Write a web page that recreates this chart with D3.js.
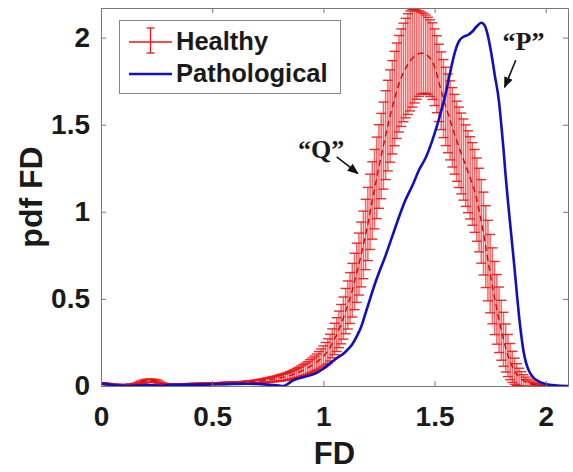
<!DOCTYPE html>
<html>
<head>
<meta charset="UTF-8">
<title>pdf FD</title>
<script src="https://cdn.jsdelivr.net/npm/d3@7"></script>
<style>
  body { margin: 0; background: #fff; }
  text { font-family: "Liberation Sans", Arial, sans-serif; font-weight: bold; fill: #1a1a1a; }
</style>
</head>
<body>
<script>
// ---- data ----
// healthy group: mean pdf and std, sampled every 0.01 on FD from 0 to 2.10
var healthyStart = 0, healthyStep = 0.01;
var healthyMean = [
  0.015,0.014,0.012,0.011,0.009,0.008,0.007,0.006,0.005,0.004,
  0.004,0.004,0.005,0.006,0.007,0.008,0.011,0.015,0.020,0.025,
  0.028,0.030,0.030,0.030,0.029,0.027,0.022,0.015,0.011,0.009,
  0.008,0.008,0.008,0.008,0.008,0.008,0.009,0.009,0.009,0.010,
  0.010,0.010,0.011,0.011,0.011,0.012,0.012,0.012,0.013,0.013,
  0.014,0.014,0.014,0.014,0.015,0.015,0.015,0.016,0.016,0.016,
  0.017,0.017,0.018,0.018,0.019,0.020,0.021,0.022,0.023,0.024,
  0.025,0.027,0.028,0.030,0.032,0.034,0.036,0.038,0.040,0.042,
  0.045,0.048,0.050,0.053,0.056,0.060,0.064,0.069,0.074,0.079,
  0.085,0.091,0.097,0.104,0.112,0.120,0.128,0.137,0.147,0.158,
  0.170,0.185,0.200,0.220,0.245,0.270,0.295,0.325,0.355,0.390,
  0.430,0.465,0.505,0.550,0.600,0.650,0.700,0.755,0.810,0.870,
  0.930,1.000,1.065,1.130,1.195,1.260,1.320,1.380,1.440,1.495,
  1.550,1.600,1.650,1.695,1.735,1.770,1.800,1.825,1.848,1.866,
  1.881,1.893,1.902,1.908,1.911,1.910,1.905,1.895,1.882,1.865,
  1.830,1.790,1.740,1.695,1.650,1.605,1.565,1.525,1.485,1.445,
  1.405,1.370,1.335,1.300,1.265,1.230,1.195,1.160,1.120,1.070,
  1.010,0.945,0.875,0.800,0.720,0.645,0.575,0.505,0.440,0.380,
  0.320,0.268,0.218,0.175,0.140,0.110,0.085,0.066,0.051,0.040,
  0.031,0.024,0.018,0.013,0.010,0.007,0.005,0.003,0.002,0.001,
  0.001,0,0,0,0,0,0,0,0,0,0
];
var healthyStd = [
  0.004,0.004,0.004,0.004,0.004,0.004,0.004,0.004,0.004,0.004,
  0.004,0.004,0.004,0.005,0.005,0.006,0.006,0.007,0.008,0.008,
  0.009,0.009,0.009,0.009,0.008,0.008,0.007,0.006,0.005,0.005,
  0.004,0.004,0.004,0.004,0.004,0.004,0.004,0.004,0.004,0.004,
  0.004,0.004,0.004,0.004,0.005,0.005,0.005,0.005,0.005,0.005,
  0.005,0.005,0.005,0.005,0.005,0.006,0.006,0.006,0.006,0.006,
  0.006,0.006,0.006,0.007,0.007,0.007,0.008,0.008,0.008,0.009,
  0.009,0.010,0.010,0.011,0.012,0.012,0.013,0.014,0.015,0.016,
  0.017,0.018,0.019,0.020,0.021,0.022,0.024,0.025,0.027,0.028,
  0.030,0.032,0.034,0.036,0.039,0.041,0.044,0.047,0.051,0.055,
  0.060,0.065,0.071,0.077,0.083,0.090,0.097,0.105,0.113,0.121,
  0.130,0.138,0.146,0.154,0.162,0.170,0.178,0.186,0.194,0.202,
  0.210,0.216,0.222,0.228,0.234,0.240,0.245,0.250,0.255,0.260,
  0.265,0.268,0.271,0.274,0.277,0.280,0.283,0.286,0.289,0.287,
  0.280,0.268,0.256,0.245,0.236,0.230,0.225,0.222,0.220,0.220,
  0.220,0.221,0.222,0.223,0.224,0.225,0.226,0.227,0.228,0.229,
  0.230,0.231,0.232,0.233,0.234,0.235,0.236,0.237,0.238,0.239,
  0.240,0.240,0.238,0.235,0.231,0.225,0.218,0.210,0.200,0.188,
  0.172,0.155,0.138,0.121,0.104,0.089,0.075,0.062,0.051,0.042,
  0.034,0.027,0.021,0.016,0.012,0.009,0.007,0.005,0.004,0.003,
  0.002,0.002,0.001,0.001,0.001,0.001,0,0,0,0,0
];

// pathological group: pdf read at these FD values
var pathFD = [0.00,0.04,0.08,0.12,0.16,0.20,0.24,0.27,0.30,0.35,0.40,0.45,0.50,0.55,0.60,0.65,0.70,0.75,0.80,0.82,
  0.84,0.86,0.90,0.94,0.97,1.00,1.03,1.06,1.09,1.11,1.13,1.15,1.17,1.19,1.21,1.23,1.25,1.28,1.31,1.34,
  1.37,1.40,1.43,1.46,1.49,1.51,1.53,1.55,1.57,1.59,1.61,1.63,1.65,1.67,1.69,1.71,1.725,1.74,1.755,1.77,
  1.79,1.80,1.81,1.82,1.83,1.84,1.85,1.86,1.87,1.88,1.89,1.90,1.91,1.92,1.94,1.97,2.00,2.04,2.10];
var pathPdf = [0.015,0.008,0.002,0.000,0.002,0.006,0.004,0.000,0.006,0.007,0.008,0.008,0.010,0.011,0.012,0.013,0.012,0.008,0.002,0.000,
  0.012,0.030,0.048,0.062,0.075,0.100,0.130,0.160,0.185,0.210,0.240,0.285,0.340,0.420,0.500,0.580,0.650,0.750,0.860,0.970,
  1.070,1.150,1.240,1.310,1.410,1.490,1.580,1.680,1.800,1.910,1.980,2.005,2.015,2.035,2.065,2.085,2.070,2.010,1.910,1.790,
  1.630,1.500,1.360,1.200,1.060,0.930,0.800,0.670,0.530,0.400,0.290,0.200,0.140,0.100,0.055,0.025,0.012,0.004,0.000];

var xTicks = [0, 0.5, 1, 1.5, 2];
var yTicks = [0, 0.5, 1, 1.5, 2];
var seriesNames = ["Healthy", "Pathological"];
// annotation labels with arrow start/end in data units
var notes = [
  {label: "\u201CQ\u201D", x: 0.99, y: 1.31, from: [1.06, 1.315], to: [1.155, 1.22]},
  {label: "\u201CP\u201D", x: 1.90, y: 1.93, from: [1.865, 1.87], to: [1.815, 1.715]}
];

// ---- layout ----
var width = 573, height = 472;
var pLeft = 101, pRight = 568, pTop = 8, pBottom = 386;
var red = "#f01414", blue = "#1010c0";

var svg = d3.select("body").append("svg")
  .attr("width", width).attr("height", height);

var x = d3.scaleLinear().domain([0, 2.1]).range([pLeft, pRight]);
var y = d3.scaleLinear().domain([0, 2.17]).range([pBottom, pTop]);

var defs = svg.append("defs");
defs.append("clipPath").attr("id", "plotclip")
  .append("rect").attr("x", pLeft).attr("y", pTop)
  .attr("width", pRight - pLeft).attr("height", pBottom - pTop);

var healthy = healthyMean.map(function(m, i) {
  return {fd: healthyStart + i * healthyStep, m: m, s: healthyStd[i]};
});

var plot = svg.append("g").attr("clip-path", "url(#plotclip)");

// error bars
var bars = plot.append("g");
bars.selectAll("line.v").data(healthy).enter().append("line")
  .attr("class", "v")
  .attr("x1", function(d) { return x(d.fd); })
  .attr("x2", function(d) { return x(d.fd); })
  .attr("y1", function(d) { return y(d.m - d.s); })
  .attr("y2", function(d) { return y(d.m + d.s); })
  .attr("stroke", red).attr("stroke-opacity", 0.65).attr("stroke-width", 1.5);
["lo", "hi"].forEach(function(k) {
  bars.selectAll("line." + k).data(healthy).enter().append("line")
    .attr("class", k)
    .attr("x1", function(d) { return x(d.fd) - 5; })
    .attr("x2", function(d) { return x(d.fd) + 5; })
    .attr("y1", function(d) { return y(k == "hi" ? d.m + d.s : d.m - d.s); })
    .attr("y2", function(d) { return y(k == "hi" ? d.m + d.s : d.m - d.s); })
    .attr("stroke", red).attr("stroke-opacity", 0.9).attr("stroke-width", 1.4);
});

// healthy mean, dashed
plot.append("path").datum(healthy)
  .attr("d", d3.line().x(function(d) { return x(d.fd); }).y(function(d) { return y(d.m); }))
  .attr("fill", "none").attr("stroke", "#e00000").attr("stroke-width", 1.4)
  .attr("stroke-dasharray", "6,4");

// pathological
var path = pathFD.map(function(f, i) { return [f, pathPdf[i]]; });
plot.append("path").datum(path)
  .attr("d", d3.line().curve(d3.curveMonotoneX)
    .x(function(d) { return x(d[0]); }).y(function(d) { return y(d[1]); }))
  .attr("fill", "none").attr("stroke", blue).attr("stroke-width", 2.6);

// ---- axes ----
var axisCol = "#777";
var gx = svg.append("g").attr("transform", "translate(0," + pBottom + ")")
  .call(d3.axisBottom(x).tickValues(xTicks).tickFormat(d3.format("")).tickSizeInner(-5).tickSizeOuter(0).tickPadding(20));
var gy = svg.append("g").attr("transform", "translate(" + pLeft + ",0)")
  .call(d3.axisLeft(y).tickValues(yTicks).tickFormat(d3.format("")).tickSizeInner(-5).tickSizeOuter(0).tickPadding(11));
var gt = svg.append("g").attr("transform", "translate(0," + pTop + ")")
  .call(d3.axisTop(x).tickValues(xTicks).tickFormat("").tickSizeInner(-5).tickSizeOuter(0));
var gr = svg.append("g").attr("transform", "translate(" + pRight + ",0)")
  .call(d3.axisRight(y).tickValues(yTicks).tickFormat("").tickSizeInner(-5).tickSizeOuter(0));
[gx, gy, gt, gr].forEach(function(g) {
  g.selectAll("path, line").attr("stroke", axisCol);
  g.selectAll("text").style("font-size", "28px").style("font-family", "Liberation Sans, Arial, sans-serif")
    .style("font-weight", "bold").attr("fill", "#1a1a1a");
});

svg.append("text").attr("x", (pLeft + pRight) / 2).attr("y", 464)
  .attr("text-anchor", "middle").style("font-size", "31px").text("FD");
svg.append("text").attr("transform", "translate(42," + (pTop + pBottom) / 2 + ") rotate(-90)")
  .attr("text-anchor", "middle").style("font-size", "32px").text("pdf FD");

// ---- annotations ----
defs.append("marker").attr("id", "arrow")
  .attr("viewBox", "0 0 10 10").attr("refX", 9).attr("refY", 5)
  .attr("markerWidth", 7).attr("markerHeight", 7).attr("orient", "auto")
  .append("path").attr("d", "M0,1 L10,5 L0,9 z").attr("fill", "#111");
notes.forEach(function(n) {
  svg.append("text").attr("x", x(n.x)).attr("y", y(n.y)).attr("text-anchor", "middle")
    .style("font-family", "Liberation Serif, Times New Roman, serif").style("font-size", "26px")
    .text(n.label);
  svg.append("line").attr("x1", x(n.from[0])).attr("y1", y(n.from[1]))
    .attr("x2", x(n.to[0])).attr("y2", y(n.to[1]))
    .attr("stroke", "#111").attr("stroke-width", 1.6).attr("marker-end", "url(#arrow)");
});

// ---- legend ----
var lg = svg.append("g");
lg.append("rect").attr("x", 119.5).attr("y", 20.5).attr("width", 221).attr("height", 73)
  .attr("fill", "#fff").attr("stroke", "#888").attr("stroke-width", 1);
lg.append("line").attr("x1", 129).attr("x2", 172).attr("y1", 42).attr("y2", 42)
  .attr("stroke", red).attr("stroke-width", 1.3);
lg.append("line").attr("x1", 150.5).attr("x2", 150.5).attr("y1", 28).attr("y2", 53)
  .attr("stroke", red).attr("stroke-width", 1.3);
[28, 53].forEach(function(v) {
  lg.append("line").attr("x1", 146.5).attr("x2", 154.5).attr("y1", v).attr("y2", v)
    .attr("stroke", red).attr("stroke-width", 1.3);
});
lg.append("line").attr("x1", 129).attr("x2", 172).attr("y1", 74).attr("y2", 74)
  .attr("stroke", blue).attr("stroke-width", 2.6);
lg.selectAll("text.lab").data(seriesNames).enter().append("text")
  .attr("class", "lab").attr("x", 176).attr("y", function(d, i) { return 50 + i * 32; })
  .style("font-size", "25.5px").text(function(d) { return d; });
</script>
</body>
</html>
